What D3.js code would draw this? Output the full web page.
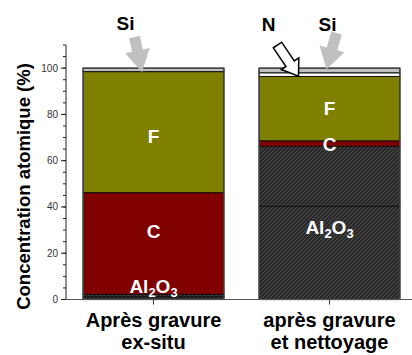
<!DOCTYPE html>
<html><head><meta charset="utf-8">
<script src="https://cdn.jsdelivr.net/npm/d3@7"></script>
<style>body{margin:0;background:#fff}svg{display:block}text{font-family:"Liberation Sans",Arial,sans-serif}text.b{font-weight:700}</style>
</head><body><svg id="c" width="412" height="355"></svg>
<script>
// ---- data ----
const categories = ["Après gravure ex-situ", "après gravure et nettoyage"];
const categoryLines = [["Après gravure", "ex-situ"], ["après gravure", "et nettoyage"]];
const seriesKeys = ["Al2O3", "Al2O3b", "C", "F", "N", "Si"];
const al2o3 = [1.2, 40.3];
const al2o3b = [1.0, 25.9];
const carbon = [44.0, 2.4];
const fluor = [52.3, 27.8];
const nitrogen = [0.0, 1.6];
const silicon = [1.5, 2.0];
const yTicks = [0, 20, 40, 60, 80, 100];
const yMinorTicks = [0,5,10,15,20,25,30,35,40,45,50,55,60,65,70,75,80,85,90,95,100,105,110];
// in-bar labels: text, category index, value position
const labelTexts = ["F", "C", "Al2O3", "F", "C", "Al2O3"];
const labelCats = [0, 0, 0, 1, 1, 1];
const labelVals = [70.6, 29.6, 5.8, 82.6, 67.2, 31.5];

const rows = categories.map((c, i) => ({cat: c, Al2O3: al2o3[i], Al2O3b: al2o3b[i], C: carbon[i], F: fluor[i], N: nitrogen[i], Si: silicon[i]}));
const colors = {Al2O3: "url(#hatch)", Al2O3b: "url(#hatch)", C: "#800000", F: "#808000", N: "#ffffff", Si: "#c0c0c0"};

const svg = d3.select("#c");
const defs = svg.append("defs");
const pat = defs.append("pattern").attr("id", "hatch").attr("patternUnits", "userSpaceOnUse").attr("width", 4).attr("height", 4);
pat.append("rect").attr("width", 4).attr("height", 4).attr("fill", "#2a2a2a");
pat.append("path").attr("d", "M-1,1 l2,-2 M0,4 l4,-4 M3,5 l2,-2").attr("stroke", "#555").attr("stroke-width", 0.8);

const x = d3.scaleBand().domain(categories).range([65.5, 417.5]).paddingInner(0.2).paddingOuter(0.1);
const y = d3.scaleLinear().domain([0, 110]).range([299.5, 45]);

const stack = d3.stack().keys(seriesKeys)(rows);

// bars
const g = svg.append("g");
stack.forEach(s => {
  g.selectAll(null).data(s).join("rect")
    .attr("x", d => x(d.data.cat))
    .attr("width", x.bandwidth())
    .attr("y", d => y(d[1]))
    .attr("height", d => Math.max(0, y(d[0]) - y(d[1])))
    .attr("fill", colors[s.key])
    .attr("stroke", "#111")
    .attr("stroke-width", 1);
});
// bar outlines
g.selectAll(null).data(rows).join("rect")
  .attr("x", d => x(d.cat)).attr("width", x.bandwidth())
  .attr("y", y(100)).attr("height", y(0) - y(100))
  .attr("fill", "none").attr("stroke", "#444").attr("stroke-width", 1.2);

// y axis
const ya = svg.append("g").attr("transform", "translate(66,0)");
ya.append("line").attr("x1", 0).attr("x2", 0).attr("y1", y(110)).attr("y2", y(0)).attr("stroke", "#222");
ya.selectAll(".mn").data(yMinorTicks).join("line").attr("x1", -3).attr("x2", 0).attr("y1", d => y(d)).attr("y2", d => y(d)).attr("stroke", "#222");
ya.selectAll(".mj").data(yTicks).join("line").attr("x1", -5).attr("x2", 0).attr("y1", d => y(d)).attr("y2", d => y(d)).attr("stroke", "#222");
ya.selectAll(".tl").data(yTicks).join("text").attr("x", -8).attr("y", d => y(d)).attr("dy", "0.35em")
  .attr("text-anchor", "end").attr("font-size", 10).attr("fill", "#333").text(d => d);

// x axis
const xa = svg.append("g");
xa.append("line").attr("x1", 66).attr("x2", 412).attr("y1", y(0)).attr("y2", y(0)).attr("stroke", "#555");
xa.selectAll(".xt").data(categories).join("line").attr("x1", d => x(d) + x.bandwidth()/2).attr("x2", d => x(d) + x.bandwidth()/2)
  .attr("y1", y(0)).attr("y2", y(0) + 5).attr("stroke", "#333");
categoryLines.forEach((lines, i) => {
  const t = xa.append("text").attr("class", "b").attr("text-anchor", "middle").attr("font-size", 20).attr("fill", "#000");
  lines.forEach((l, j) => t.append("tspan").attr("x", x(categories[i]) + x.bandwidth()/2).attr("y", 327 + j*22).text(l));
});

// y axis title
svg.append("text").attr("class", "b").attr("transform", `translate(30,186.5) rotate(-90)`)
  .attr("text-anchor", "middle").attr("font-size", 18.5).text("Concentration atomique (%)");

// in-bar labels
labelTexts.forEach((t, i) => {
  const cx = x(categories[labelCats[i]]) + x.bandwidth()/2;
  const txt = svg.append("text").attr("class", "b").attr("x", cx).attr("y", y(labelVals[i]) + 7)
    .attr("text-anchor", "middle").attr("font-size", 19).attr("fill", "#fff");
  if (t === "Al2O3") {
    txt.append("tspan").text("Al");
    txt.append("tspan").attr("font-size", 13).attr("dy", 4).text("2");
    txt.append("tspan").attr("dy", -4).text("O");
    txt.append("tspan").attr("font-size", 13).attr("dy", 4).text("3");
  } else txt.text(t);
});

// annotation arrows (tip relative to bar centre/top)
function blockArrow(tail, tip, shaftW, headW, headL, fill, stroke) {
  const dx = tip[0] - tail[0], dy = tip[1] - tail[1];
  const L = Math.hypot(dx, dy), ux = dx / L, uy = dy / L, px = -uy, py = ux;
  const b = [tip[0] - ux * headL, tip[1] - uy * headL];
  const pts = [
    [tail[0] + px*shaftW/2, tail[1] + py*shaftW/2],
    [b[0] + px*shaftW/2, b[1] + py*shaftW/2],
    [b[0] + px*headW/2, b[1] + py*headW/2],
    tip,
    [b[0] - px*headW/2, b[1] - py*headW/2],
    [b[0] - px*shaftW/2, b[1] - py*shaftW/2],
    [tail[0] - px*shaftW/2, tail[1] - py*shaftW/2]
  ];
  svg.append("polygon").attr("points", pts.map(p => p.join(",")).join(" "))
    .attr("fill", fill).attr("stroke", stroke).attr("stroke-width", stroke === "none" ? 0 : 1.5).attr("stroke-linejoin", "miter");
}
const c0 = x(categories[0]) + x.bandwidth()/2, c1 = x(categories[1]) + x.bandwidth()/2;
blockArrow([c0 - 19, 37], [c0 - 11.5, y(100) + 4], 11, 25, 22, "#c0c0c0", "none");
blockArrow([c1 + 7, 33], [c1 - 3, y(100) + 1], 11, 26, 21, "#c0c0c0", "none");
blockArrow([c1 - 52, 45], [c1 - 31, y(100) + 8], 10, 21, 15, "#fff", "#000");

const ann = [["Si", c0 - 28, 30], ["N", c1 - 61, 31], ["Si", c1 - 2, 31]];
ann.forEach(a => svg.append("text").attr("class", "b").attr("x", a[1]).attr("y", a[2]).attr("text-anchor", "middle")
  .attr("font-size", 19).text(a[0]));
</script></body></html>
